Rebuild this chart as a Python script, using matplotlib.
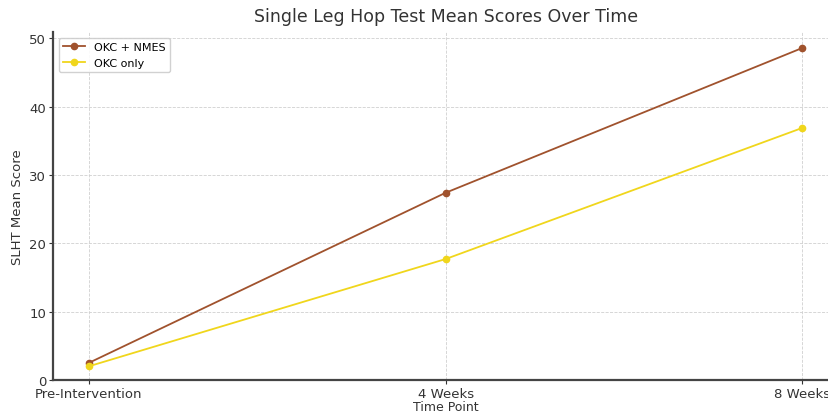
import matplotlib.pyplot as plt

# data
time_points = ['Pre-Intervention', '4 Weeks', '8 Weeks']
okc_nmes = [2.5, 27.4, 48.6]
okc_only = [2.0, 17.7, 36.9]

fig = plt.figure(figsize=(8.29, 4.14), dpi=100)
ax = fig.add_axes([0.064, 0.0797, 0.947, 0.8406])

ax.plot(time_points, okc_nmes, marker='o', markersize=4.5, color='#a0522d', linewidth=1.3, label='OKC + NMES')
ax.plot(time_points, okc_only, marker='o', markersize=4.5, color='#f0d61c', linewidth=1.3, label='OKC only')

ax.set_ylim(bottom=0)
ax.set_yticks([0, 10, 20, 30, 40, 50])
ax.grid(True, linestyle='--', color='#d0d0d0', linewidth=0.6)

for s in ['top', 'right']:
    ax.spines[s].set_visible(False)
for s in ['left', 'bottom']:
    ax.spines[s].set_color('#444444')
    ax.spines[s].set_linewidth(1.6)

ax.tick_params(labelsize=9.5, colors='#333333', length=3, pad=2)
ax.set_title('Single Leg Hop Test Mean Scores Over Time', fontsize=12.5, color='#333333', pad=8)
ax.set_xlabel('Time Point', fontsize=9, color='#333333', labelpad=0)
ax.set_ylabel('SLHT Mean Score', fontsize=9.5, color='#333333')
ax.legend(loc='upper left', fontsize=8, framealpha=0.9)

plt.savefig('out.png', dpi=100)
